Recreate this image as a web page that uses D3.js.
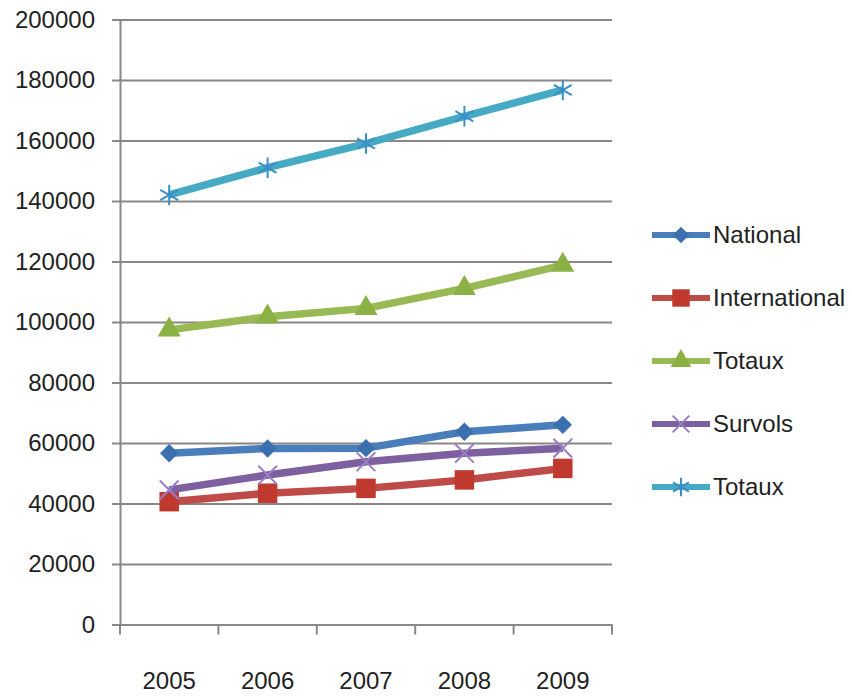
<!DOCTYPE html>
<html>
<head>
<meta charset="utf-8">
<script src="https://cdn.jsdelivr.net/npm/d3@7"></script>
<style>
  body { margin: 0; background: #fff; }
  svg text { font-family: "Liberation Sans", Arial, sans-serif; fill: #222; }
</style>
</head>
<body>
<div class="chart"></div>
<script>
// data
var years = ["2005", "2006", "2007", "2008", "2009"];
var national = [56600, 58200, 58300, 63700, 66000];
var international = [40600, 43400, 45000, 47800, 51600];
var totaux = [97400, 101700, 104500, 111100, 118800];
var survols = [44500, 49400, 53800, 56600, 58300];
var totaux2 = [142000, 151000, 159000, 168000, 176700];
var yTicks = [0, 20000, 40000, 60000, 80000, 100000, 120000, 140000, 160000, 180000, 200000];

var seriesNames = ["National", "International", "Totaux", "Survols", "Totaux"];
var seriesValues = [national, international, totaux, survols, totaux2];
var seriesColors = ["#4A7EBB", "#BE4B48", "#98B954", "#7D60A0", "#46AAC5"];
var markerColors = ["#3A6FB0", "#C0392F", "#8BB043", "#9A7CC8", "#3A8FC8"];

//svg dims
var width = 852;
var height = 697;
var plotLeft = 120, plotRight = 612, plotTop = 19.5, plotBottom = 624.5;

var svg = d3.select(".chart")
            .append("svg")
            .attr("width", width)
            .attr("height", height);

var xScale = d3.scaleBand()
               .domain(years)
               .range([plotLeft, plotRight]);
var yScale = d3.scaleLinear()
               .domain([0, 200000])
               .range([plotBottom, plotTop]);

//gridlines
svg.append("g")
   .attr("transform", `translate(${plotLeft}, 0)`)
   .call(d3.axisLeft(yScale).tickValues(yTicks).tickSize(-(plotRight - plotLeft)).tickFormat(""))
   .call(g => g.select(".domain").remove())
   .call(g => g.selectAll("line").attr("stroke", "#888").attr("stroke-width", 2));

//y axis
svg.append("g")
   .attr("transform", `translate(${plotLeft}, 0)`)
   .call(d3.axisLeft(yScale).tickValues(yTicks).tickSize(8).tickPadding(17).tickFormat(d3.format("d")))
   .call(g => g.select(".domain").attr("stroke", "#888").attr("stroke-width", 2))
   .call(g => g.selectAll("line").attr("stroke", "#888").attr("stroke-width", 2))
   .call(g => g.selectAll("text").style("font-size", "24px").attr("fill", "#222"));

//x axis labels
svg.append("g")
   .attr("transform", `translate(0, ${plotBottom})`)
   .call(d3.axisBottom(xScale).tickSize(0).tickPadding(47))
   .call(g => g.select(".domain").attr("stroke", "#888").attr("stroke-width", 2))
   .call(g => g.selectAll("text").style("font-size", "24px").attr("fill", "#222"));

//x axis ticks at category borders
var borders = years.map(d => xScale(d)).concat([xScale.range()[1]]);
svg.append("g")
   .selectAll("line")
   .data(borders)
   .enter()
   .append("line")
   .attr("x1", d => d)
   .attr("x2", d => d)
   .attr("y1", plotBottom)
   .attr("y2", plotBottom + 10)
   .attr("stroke", "#888")
   .attr("stroke-width", 2);

//markers (diamond = rotated square)
var symbols = [
  { type: d3.symbolSquare, size: 170, fill: true, rotate: 45 },
  { type: d3.symbolSquare, size: 380, fill: true, rotate: 0 },
  { type: d3.symbolTriangle, size: 230, fill: true, rotate: 0 },
  { type: d3.symbolX, size: 230, fill: false, rotate: 0 },
  { type: d3.symbolAsterisk, size: 300, fill: false, rotate: 0 }
];

function drawMarker(g, i, scale) {
  var s = symbols[i];
  var p = g.append("path")
           .attr("d", d3.symbol().type(s.type).size(s.size * (scale || 1))())
           .attr("transform", `rotate(${s.rotate})`);
  if (s.fill) {
    p.attr("fill", markerColors[i]);
  } else {
    p.attr("fill", "none").attr("stroke", markerColors[i]).attr("stroke-width", 2);
  }
}

var line = d3.line()
             .x((d, i) => xScale(years[i]) + xScale.bandwidth() / 2)
             .y(d => yScale(d));

seriesValues.forEach((vals, k) => {
  var g = svg.append("g");
  g.append("path")
   .datum(vals)
   .attr("d", line)
   .attr("fill", "none")
   .attr("stroke", seriesColors[k])
   .attr("stroke-width", 7.5)
   .attr("stroke-linejoin", "round");
  vals.forEach((v, i) => {
    var m = g.append("g")
             .attr("transform", `translate(${xScale(years[i]) + xScale.bandwidth() / 2}, ${yScale(v)})`);
    drawMarker(m, k);
  });
});

//legend
var legend = svg.append("g")
                .attr("transform", "translate(652, 235)");
seriesNames.forEach((name, k) => {
  var row = legend.append("g")
                  .attr("transform", `translate(0, ${k * 63})`);
  row.append("line")
     .attr("x1", 0).attr("x2", 58)
     .attr("y1", 0).attr("y2", 0)
     .attr("stroke", seriesColors[k])
     .attr("stroke-width", 6);
  var m = row.append("g").attr("transform", "translate(29, 0)");
  drawMarker(m, k, 0.8);
  row.append("text")
     .attr("x", 61)
     .attr("y", 0)
     .attr("dy", "0.35em")
     .style("font-size", "24px")
     .text(name);
});
</script>
</body>
</html>
